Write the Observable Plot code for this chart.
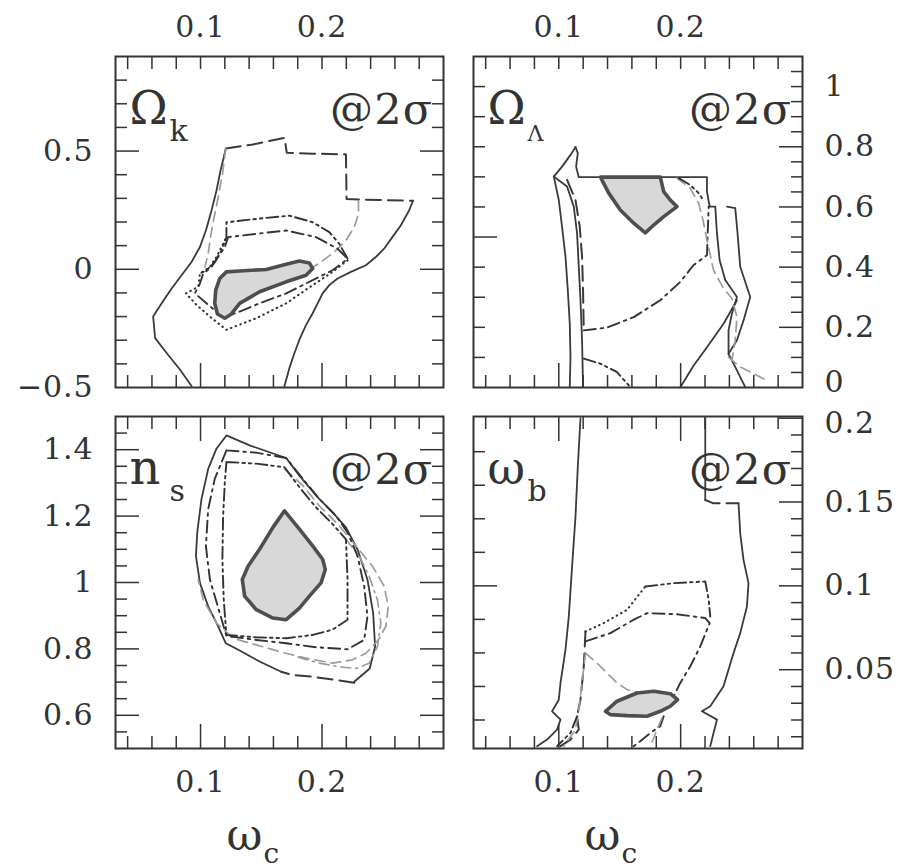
<!DOCTYPE html>
<html><head><meta charset="utf-8">
<script src="https://cdn.jsdelivr.net/npm/d3@7"></script>
<script src="https://cdn.jsdelivr.net/npm/@observablehq/plot@0.6"></script>
<style>
html,body{margin:0;padding:0;background:#fff;}
#chart{position:relative;width:909px;height:868px;overflow:hidden;background:#fff;}
</style></head><body><div id="chart"></div>
<script>
// ---------- tick values / labels ----------
const xMinor = [0.04,0.06,0.08,0.12,0.14,0.16,0.18,0.22,0.24,0.26,0.28];
const xMajor = [0.1,0.2];
const xLabels = [0.1,0.2];

const tlYMinor = [-0.4,-0.3,-0.2,-0.1,0.1,0.2,0.3,0.4,0.6,0.7,0.8];
const tlYMajor = [0,0.5];
const tlYLabels = [-0.5,0,0.5];

const trYLeftMinor = [0.1,0.2,0.3,0.4,0.6,0.7,0.8,0.9,1.0];
const trYLeftMajor = [0.5];
const trYRightMinor = [0.05,0.1,0.15,0.25,0.3,0.35,0.45,0.5,0.55,0.65,0.7,0.75,0.85,0.9,0.95,1.0,1.05];
const trYRightMajor = [0.2,0.4,0.6,0.8];
const trYLabels = [0.2,0.4,0.6,0.8,1];
const trYLabelsLow = [0];

const blYMinor = [0.55,0.65,0.7,0.75,0.85,0.9,0.95,1.05,1.1,1.15,1.25,1.3,1.35,1.45];
const blYMajor = [0.6,0.8,1,1.2,1.4];
const blYLabels = [0.6,0.8,1,1.2,1.4];

const brYLeftMinor = [0.02,0.04,0.06,0.08,0.12,0.14,0.16,0.18];
const brYLeftMajor = [0.1];
const brYRightMinor = [0.01,0.02,0.03,0.04,0.06,0.07,0.08,0.09,0.11,0.12,0.13,0.14,0.16,0.17,0.18,0.19];
const brYRightMajor = [0.05,0.1,0.15,0.2];
const brYLabels = [0.05,0.1,0.15];
const brYLabelsHigh = [0.2];

const panelNames = ["Ω","Ω","n","ω"];
const panelSubs = ["k","Λ","s","b"];
const sigmaLabel = "@2σ";
const xAxisName = "ω";
const xAxisSub = "c";

// ---------- contours: [omega_c, parameter] ----------
// Omega_k
const tlSolidL = [[0.0926,-0.494],[0.083,-0.424],[0.0721,-0.354],[0.0626,-0.291],[0.061,-0.2],[0.068,-0.144],[0.0762,-0.081],[0.0844,-0.025],[0.0926,0.031],[0.0995,0.094],[0.1044,0.164],[0.109,0.248],[0.1131,0.332],[0.1164,0.416],[0.1208,0.511]];
const tlSolidR = [[0.2749,0.29],[0.2716,0.248],[0.2648,0.185],[0.2579,0.136],[0.2511,0.087],[0.2443,0.052],[0.2361,0.017],[0.2238,-0.011],[0.2128,-0.039],[0.206,-0.067],[0.2005,-0.102],[0.1964,-0.144],[0.1923,-0.186],[0.1869,-0.235],[0.1814,-0.298],[0.1773,-0.354],[0.1732,-0.417],[0.1691,-0.494]];
const tlDashed = [[0.1208,0.511],[0.1432,0.528],[0.1691,0.556],[0.171,0.493],[0.1923,0.489],[0.2197,0.486],[0.2202,0.297],[0.247,0.293],[0.2749,0.29]];
const tlGreyDashL = [[0.1208,0.511],[0.118,0.402],[0.1145,0.304],[0.1112,0.22],[0.1082,0.136],[0.1063,0.066],[0.1036,0.01]];
const tlGreyDashR = [[0.23,0.29],[0.23,0.234],[0.2265,0.178],[0.2197,0.122],[0.2101,0.073],[0.1992,0.031],[0.191,0.003]];
const tlDashDotDot = [[0.221,0.045],[0.2142,0.108],[0.206,0.157],[0.1923,0.199],[0.1732,0.227],[0.1459,0.213],[0.1213,0.199],[0.1213,0.136],[0.1172,0.08],[0.1117,0.031],[0.1049,-0.004],[0.0995,-0.018]];
const tlDashDot = [[0.2197,0.052],[0.2128,0.087],[0.1951,0.136],[0.1705,0.164],[0.1459,0.15],[0.1227,0.136],[0.12,0.094],[0.1145,0.052],[0.109,0.01],[0.1022,-0.018],[0.0995,-0.06],[0.0954,-0.102],[0.1049,-0.144],[0.1131,-0.179],[0.1213,-0.2],[0.1322,-0.179],[0.1486,-0.144],[0.1705,-0.102],[0.1923,-0.046],[0.2087,-0.004],[0.2197,0.038]];
const tlDotted = [[0.221,0.038],[0.2087,-0.011],[0.1923,-0.067],[0.1705,-0.144],[0.1459,-0.207],[0.1213,-0.256],[0.1077,-0.2],[0.0967,-0.151],[0.088,-0.102],[0.0981,-0.074],[0.0995,-0.018],[0.1077,0.01],[0.1131,0.052],[0.1186,0.108],[0.1213,0.136]];
const tlCore = [[0.1213,-0.011],[0.1322,-0.007],[0.1541,-0.001],[0.1705,0.021],[0.1814,0.035],[0.1896,0.027],[0.1923,0.003],[0.1869,-0.025],[0.1705,-0.053],[0.1486,-0.095],[0.1322,-0.144],[0.1254,-0.189],[0.12,-0.207],[0.1139,-0.189],[0.1117,-0.144],[0.1125,-0.088],[0.1158,-0.039],[0.1213,-0.011]];

// Omega_Lambda
const trSolidA = [[0.1137,0.799],[0.1096,0.773],[0.1027,0.734],[0.0959,0.701],[0.1,0.623],[0.1027,0.534],[0.1055,0.434],[0.1074,0.323],[0.109,0.212],[0.1096,0.101],[0.109,0.001]];
const trSolidB = [[0.1137,0.799],[0.1156,0.779],[0.1142,0.734],[0.1164,0.699],[0.2216,0.699],[0.2216,0.651],[0.2238,0.601],[0.2284,0.601],[0.2298,0.512],[0.232,0.423],[0.2366,0.357],[0.2462,0.301],[0.2421,0.246],[0.2393,0.19],[0.2393,0.112],[0.2462,0.057],[0.253,0.001]];
const trSolidC = [[0.0959,0.701],[0.1068,0.668],[0.1123,0.601],[0.115,0.512],[0.1164,0.401],[0.1178,0.29],[0.1191,0.157],[0.1199,0.001]];
const trSolidD = [[0.238,0.601],[0.2448,0.596],[0.2467,0.512],[0.2489,0.401],[0.2571,0.301],[0.2516,0.223],[0.2462,0.157],[0.2393,0.112]];
const trSolidE = [[0.2462,0.29],[0.2352,0.212],[0.2216,0.134],[0.2107,0.073],[0.1997,0.001]];
const trDashed = [[0.1068,0.69],[0.1137,0.623],[0.1172,0.534],[0.1191,0.434],[0.1199,0.323],[0.1205,0.19]];
const trDashDot = [[0.1205,0.19],[0.1396,0.199],[0.1615,0.234],[0.1833,0.29],[0.1997,0.351],[0.2107,0.407],[0.2216,0.44],[0.2221,0.501],[0.223,0.601]];
const trGreyDash = [[0.197,0.696],[0.2079,0.662],[0.2148,0.612],[0.2183,0.557],[0.2216,0.49],[0.227,0.39],[0.2352,0.329],[0.2421,0.296],[0.2462,0.234],[0.2448,0.157],[0.2421,0.09]];
const trGreyDash2 = [[0.2393,0.101],[0.2489,0.068],[0.2598,0.046],[0.2708,0.023]];
const trDashDotDot = [[0.1984,0.696],[0.2079,0.673],[0.2148,0.646],[0.2175,0.629]];
const trDashDotDot2 = [[0.1205,0.096],[0.1342,0.079],[0.1478,0.051],[0.1587,0.001]];
const trCore = [[0.1342,0.699],[0.1833,0.699],[0.1861,0.651],[0.1915,0.623],[0.197,0.601],[0.1861,0.568],[0.1779,0.54],[0.171,0.514],[0.1615,0.546],[0.1505,0.59],[0.141,0.646],[0.1342,0.699]];

// n_s
const blSolid = [[0.1664,0.731],[0.1486,0.762],[0.1322,0.795],[0.1208,0.817],[0.1145,0.868],[0.1063,0.928],[0.0995,0.999],[0.0962,1.08],[0.0973,1.151],[0.1008,1.252],[0.1063,1.342],[0.1131,1.403],[0.1213,1.443],[0.1404,1.413],[0.1705,1.375],[0.1814,1.322],[0.1951,1.262],[0.2087,1.211],[0.2197,1.166],[0.2292,1.1],[0.2374,1.009],[0.2421,0.908],[0.2437,0.807],[0.2393,0.741],[0.2265,0.701]];
const blDashed = [[0.2265,0.698],[0.2087,0.708],[0.1923,0.716],[0.176,0.721],[0.1664,0.731]];
const blDashDot = [[0.1213,1.398],[0.1459,1.391],[0.1705,1.375],[0.1842,1.312],[0.1978,1.252],[0.2115,1.201],[0.221,1.151],[0.2292,1.08],[0.2347,0.989],[0.2374,0.898],[0.2347,0.827],[0.221,0.799],[0.1951,0.805],[0.1705,0.817],[0.1459,0.827],[0.1213,0.839],[0.1158,0.908],[0.1077,1.009],[0.1044,1.11],[0.1063,1.221],[0.1117,1.312],[0.1213,1.398]];
const blDashDotDot = [[0.1213,1.363],[0.1459,1.358],[0.1691,1.347],[0.1814,1.287],[0.1951,1.226],[0.2087,1.176],[0.2197,1.13],[0.221,1.009],[0.221,0.888],[0.2087,0.858],[0.1923,0.842],[0.1705,0.832],[0.1459,0.835],[0.1213,0.842],[0.1191,0.948],[0.118,1.07],[0.1186,1.201],[0.12,1.302],[0.1213,1.363]];
const blGreyDash = [[0.1691,1.342],[0.1842,1.292],[0.1978,1.231],[0.2142,1.171],[0.2279,1.11],[0.2415,1.049],[0.2511,0.989],[0.2546,0.928],[0.2525,0.868],[0.2464,0.827],[0.2361,0.787],[0.2251,0.767],[0.2087,0.757],[0.1869,0.772],[0.1678,0.789],[0.1459,0.812],[0.1268,0.832],[0.1131,0.878],[0.1022,0.948],[0.0981,1.009]];
const blGreyDashDot = [[0.2197,1.13],[0.2306,1.08],[0.2388,1.019],[0.2456,0.948],[0.2484,0.878],[0.2456,0.807],[0.2388,0.757],[0.2279,0.741],[0.2142,0.746],[0.1978,0.757],[0.1787,0.777]];
const blCore = [[0.1691,1.216],[0.1814,1.161],[0.1923,1.11],[0.2005,1.07],[0.2027,1.039],[0.1992,0.999],[0.1896,0.959],[0.1814,0.923],[0.1705,0.888],[0.1596,0.893],[0.1459,0.918],[0.1363,0.959],[0.1344,1.009],[0.1391,1.049],[0.1486,1.1],[0.1596,1.166],[0.1691,1.216]];

// omega_b
const brSolidL = [[0.1178,0.1998],[0.1156,0.171],[0.1137,0.1413],[0.1109,0.1115],[0.1082,0.0817],[0.1055,0.0619],[0.1014,0.0421],[0.1,0.0321],[0.0945,0.0252],[0.1014,0.0202],[0.0986,0.0143],[0.0904,0.0083],[0.0822,0.0044]];
const brSolidTop = [[0.2202,0.1998],[0.2202,0.1512]];
const brDashed = [[0.2202,0.1512],[0.227,0.1492],[0.2475,0.1492]];
const brSolidR = [[0.2475,0.1492],[0.2489,0.1313],[0.2516,0.1155],[0.2557,0.1016],[0.2544,0.0877],[0.2489,0.0718],[0.2434,0.0599],[0.2352,0.0401],[0.2243,0.0282],[0.2175,0.0252],[0.2298,0.0202],[0.227,0.0123],[0.2243,0.0044]];
const brDashDotDot = [[0.171,0.0996],[0.1943,0.1016],[0.2202,0.1026],[0.223,0.0917],[0.2243,0.0817]];
const brDotted = [[0.1219,0.0728],[0.1369,0.0778],[0.156,0.0857],[0.171,0.0996]];
const brDashDot = [[0.1219,0.0669],[0.1423,0.0718],[0.1615,0.0798],[0.1724,0.0837],[0.197,0.0831],[0.2202,0.0808],[0.2238,0.0778],[0.2161,0.0639],[0.2079,0.052],[0.1997,0.0421],[0.1943,0.0341]];
const brLeftDashed = [[0.1219,0.0728],[0.1205,0.052],[0.1178,0.0321],[0.115,0.0222],[0.1164,0.0143],[0.1096,0.0083],[0.1014,0.0044]];
const brGreyDash = [[0.1219,0.0599],[0.1342,0.052],[0.1478,0.0421],[0.156,0.0381],[0.1669,0.0361]];
const brGreyDashLeft = [[0.1219,0.0599],[0.1191,0.0421],[0.1164,0.0262],[0.1137,0.0143],[0.1041,0.0044]];
const brLowDashDot = [[0.1861,0.0222],[0.1833,0.0163],[0.1751,0.0123],[0.1669,0.0073],[0.1615,0.0044]];
const brLowGrey = [[0.1847,0.0212],[0.1806,0.0143],[0.1751,0.0044]];
const brLowLeft = [[0.115,0.0222],[0.1096,0.0123],[0.0986,0.0044]];
const brCore = [[0.1383,0.0252],[0.1478,0.0312],[0.1642,0.0361],[0.1779,0.0371],[0.1915,0.0357],[0.1975,0.0321],[0.1915,0.0282],[0.1833,0.0252],[0.1724,0.0222],[0.156,0.0226],[0.1423,0.0232],[0.1383,0.0252]];

// ---------- styles ----------
const INK = "#333";
const GREY = "#9c9c9c";
const FONT = "DejaVu Serif";
const ST = {
  solid: {stroke: "#3a3a3a", strokeWidth: 1.8},
  dashed: {stroke: "#3a3a3a", strokeWidth: 2, strokeDasharray: "15,7"},
  dashDot: {stroke: "#333", strokeWidth: 1.9, strokeDasharray: "12,5,2.5,5"},
  dashDotDot: {stroke: "#333", strokeWidth: 1.9, strokeDasharray: "12,4,2.5,4,2.5,4"},
  dotted: {stroke: "#333", strokeWidth: 2.1, strokeDasharray: "0.5,4.5", strokeLinecap: "round"},
  greyDash: {stroke: GREY, strokeWidth: 1.7, strokeDasharray: "10,6"},
  greyDashDot: {stroke: GREY, strokeWidth: 1.7, strokeDasharray: "10,5,2,5"},
  core: {stroke: "#4e4e4e", strokeWidth: 3.6, fill: "#d8d8d8", strokeLinejoin: "round"}
};

function tick(dim, anchor, ticks, size) {
  const f = dim === "x" ? Plot.axisX : Plot.axisY;
  return f({anchor, ticks, tickSize: -size, tickFormat: () => "", label: null, stroke: INK, strokeWidth: 1.5});
}
const fmt = d => String(d).replace("-", "\u2212");
const LABEL_SIZE = 30;
const T = {fill: INK, fontFamily: FONT};

function makePanel(p) {
  const marks = [];
  for (const [data, st] of p.curves) marks.push(Plot.line(data, {x: d => d[0], y: d => d[1], ...ST[st]}));
  marks.push(Plot.line(p.core, {x: d => d[0], y: d => d[1], ...ST.core}));
  marks.push(tick("x", "top", p.topMajorLong ? xMinor : xMinor.concat(xMajor), 12));
  if (p.topMajorLong) marks.push(tick("x", "top", xMajor, 24));
  marks.push(tick("x", "bottom", xMinor, 12));
  marks.push(tick("x", "bottom", xMajor, 24));
  marks.push(tick("y", "left", p.yLMinor, 12));
  marks.push(tick("y", "left", p.yLMajor, 24));
  marks.push(tick("y", "right", p.yRMinor, 12));
  marks.push(tick("y", "right", p.yRMajor, 24));
  marks.push(Plot.frame({stroke: INK, strokeWidth: 2}));
  // axis numbers
  marks.push(Plot.axisX({anchor: p.xLabelAnchor, ticks: xLabels, tickSize: 0, tickPadding: p.xLabelAnchor === "top" ? 20 : 22, fontSize: LABEL_SIZE, tickFormat: fmt, label: null, ...T}));
  marks.push(Plot.axisY({anchor: p.yLabelAnchor, ticks: p.yLabels, tickSize: 0, tickPadding: 22, fontSize: LABEL_SIZE, tickFormat: fmt, label: null, ...T}));
  if (p.yLabelsExtra) marks.push(Plot.axisY({anchor: p.yLabelAnchor, ticks: p.yLabelsExtra, tickSize: 0, tickPadding: 22, dy: p.extraDy, fontSize: LABEL_SIZE, tickFormat: fmt, label: null, ...T}));
  // panel labels
  marks.push(Plot.text([p.name], {text: d => d, frameAnchor: "top-left", textAnchor: "start", lineAnchor: "bottom", dx: 14, dy: 67, fontSize: p.nameSize, ...T}));
  marks.push(Plot.text([p.sub], {text: d => d, frameAnchor: "top-left", textAnchor: "start", lineAnchor: "bottom", dx: 54, dy: 84, fontSize: p.subSize, ...T}));
  marks.push(Plot.text([sigmaLabel], {text: d => d, frameAnchor: "top-right", textAnchor: "end", lineAnchor: "bottom", dx: -10, dy: 67, fontSize: 43, ...T}));
  if (p.xTitle) {
    marks.push(Plot.text([xAxisName], {text: d => d, frameAnchor: "bottom-left", textAnchor: "start", lineAnchor: "bottom", dx: 111, dy: 101, fontSize: 44, ...T}));
    marks.push(Plot.text([xAxisSub], {text: d => d, frameAnchor: "bottom-left", textAnchor: "start", lineAnchor: "bottom", dx: 148, dy: 114, fontSize: 28, ...T}));
  }
  const svg = Plot.plot({
    width: p.w, height: p.h,
    marginLeft: p.m[0], marginRight: p.m[1], marginTop: p.m[2], marginBottom: p.m[3],
    x: {domain: [0.03, 0.3]},
    y: {domain: p.yDomain},
    style: {"position": "absolute", "left": p.left + "px", "top": p.top + "px", "background": "transparent", "overflow": "visible", "color": INK, "font-family": FONT},
    marks
  });
  d3.select(svg).attr("font-family", FONT);
  d3.select(svg).selectAll("text").attr("font-family", FONT).attr("letter-spacing", "0.03em");
  return svg;
}

const panels = [
  {left: 0, top: 0, w: 455, h: 398, m: [115, 12, 56, 11], yDomain: [-0.5, 0.9],
   curves: [[tlSolidL,"solid"],[tlSolidR,"solid"],[tlDashed,"dashed"],[tlGreyDashL,"greyDash"],[tlGreyDashR,"greyDash"],[tlDashDotDot,"dashDotDot"],[tlDashDot,"dashDot"],[tlDotted,"dotted"]],
   core: tlCore, yLMinor: tlYMinor, yLMajor: tlYMajor, yRMinor: tlYMinor, yRMajor: tlYMajor,
   yLabels: tlYLabels, yLabelAnchor: "left", xLabelAnchor: "top", topMajorLong: false,
   name: panelNames[0], sub: panelSubs[0], nameSize: 46, subSize: 30},
  {left: 455, top: 0, w: 454, h: 398, m: [18, 107, 56, 11], yDomain: [0, 1.1],
   curves: [[trSolidA,"solid"],[trSolidB,"solid"],[trSolidC,"solid"],[trSolidD,"solid"],[trSolidE,"solid"],[trDashed,"dashed"],[trDashDot,"dashDot"],[trGreyDash,"greyDash"],[trGreyDash2,"greyDash"],[trDashDotDot,"dashDotDot"],[trDashDotDot2,"dashDotDot"]],
   core: trCore, yLMinor: trYLeftMinor, yLMajor: trYLeftMajor, yRMinor: trYRightMinor, yRMajor: trYRightMajor,
   yLabels: trYLabels, yLabelsExtra: trYLabelsLow, extraDy: -5, yLabelAnchor: "right", xLabelAnchor: "top", topMajorLong: false,
   name: panelNames[1], sub: panelSubs[1], nameSize: 46, subSize: 22},
  {left: 0, top: 398, w: 455, h: 470, m: [115, 12, 18, 120], yDomain: [0.5, 1.5],
   curves: [[blSolid,"solid"],[blDashed,"dashed"],[blGreyDash,"greyDash"],[blGreyDashDot,"greyDashDot"],[blDashDot,"dashDot"],[blDashDotDot,"dashDotDot"]],
   core: blCore, yLMinor: blYMinor, yLMajor: blYMajor, yRMinor: blYMinor, yRMajor: blYMajor,
   yLabels: blYLabels, yLabelAnchor: "left", xLabelAnchor: "bottom", topMajorLong: true, xTitle: true,
   name: panelNames[2], sub: panelSubs[2], nameSize: 48, subSize: 30},
  {left: 455, top: 398, w: 454, h: 470, m: [18, 107, 18, 120], yDomain: [0.003, 0.201],
   curves: [[brSolidL,"solid"],[brSolidTop,"solid"],[brDashed,"dashed"],[brSolidR,"solid"],[brLeftDashed,"dashed"],[brGreyDash,"greyDash"],[brGreyDashLeft,"greyDash"],[brDotted,"dotted"],[brDashDotDot,"dashDotDot"],[brDashDot,"dashDot"],[brLowDashDot,"dashDot"],[brLowGrey,"greyDash"],[brLowLeft,"dashDotDot"]],
   core: brCore, yLMinor: brYLeftMinor, yLMajor: brYLeftMajor, yRMinor: brYRightMinor, yRMajor: brYRightMajor,
   yLabels: brYLabels, yLabelsExtra: brYLabelsHigh, extraDy: 5, yLabelAnchor: "right", xLabelAnchor: "bottom", topMajorLong: true, xTitle: true,
   name: panelNames[3], sub: panelSubs[3], nameSize: 46, subSize: 30}
];

const chart = document.getElementById("chart");
for (const p of panels) chart.appendChild(makePanel(p));
</script></body></html>
